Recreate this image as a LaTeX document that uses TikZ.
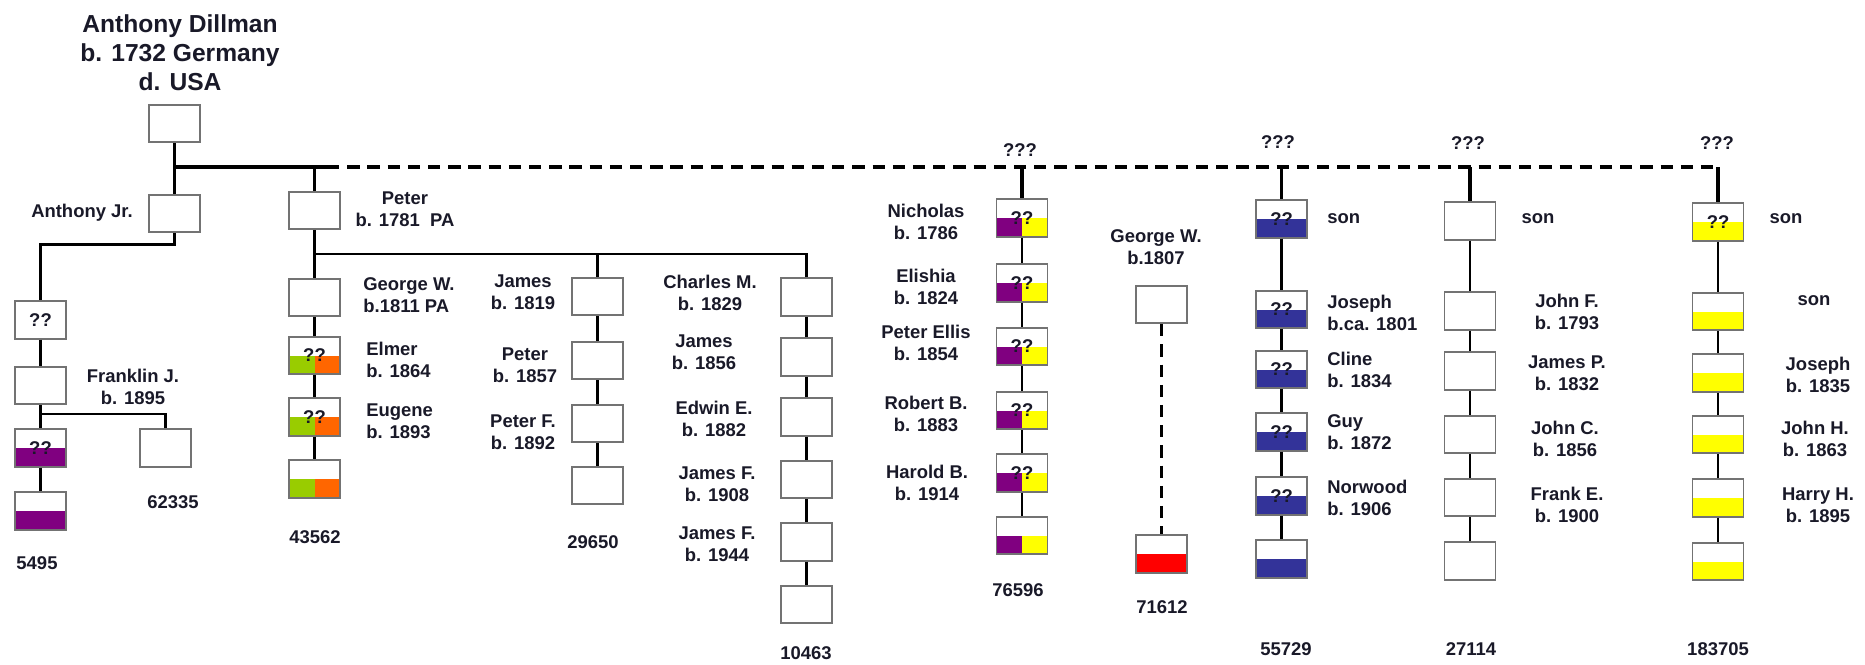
\documentclass[tikz,border=0pt]{standalone}
\usepackage{fontspec}
\setmainfont{Liberation Sans}
\usetikzlibrary{shapes, positioning}
\definecolor{boxline}{RGB}{115,115,115}
\definecolor{ink}{RGB}{25,25,40}
\definecolor{plum}{RGB}{128,0,128}
\definecolor{lemon}{RGB}{255,255,0}
\definecolor{navy}{RGB}{51,51,153}
\definecolor{lime}{RGB}{153,204,0}
\definecolor{tangerine}{RGB}{255,102,0}
\definecolor{scarlet}{RGB}{255,0,0}
\tikzstyle{person} = [rectangle, draw=boxline, line width=1pt, fill=white, minimum width=1.02cm, minimum height=0.75cm, inner sep=0pt, text=ink, font=\bfseries\fontsize{10.5}{10.5}\selectfont]
\tikzstyle{tag} = [align=center, inner sep=0pt, text=ink, font=\bfseries\fontsize{10.5}{12.5}\selectfont]
\tikzstyle{trunk} = [line width=1.8pt]
\tikzstyle{link} = [line width=1.4pt]
\tikzstyle{unsure} = [dash pattern=on 7pt off 4.5pt]
\tikzset{
  half/.style={person, path picture={\fill[#1] (path picture bounding box.west) rectangle (path picture bounding box.south east);}},
  split/.style 2 args={person, path picture={
    \fill[#1] (path picture bounding box.west) rectangle (path picture bounding box.south);
    \fill[#2] (path picture bounding box.center) rectangle (path picture bounding box.south east);}}
}

\begin{document}
\begin{tikzpicture}[x=0.02cm, y=-0.02cm]
  \useasboundingbox (0,0) rectangle (1865,664);

  % Stammvater
  \node[tag, font=\bfseries\fontsize{14}{16.5}\selectfont] (title) at (180,53) {Anthony Dillman\\b. 1732 Germany\\d. USA};
  \node[person] (root) at (174.5,123.5) {};
  \node[person] (aj) at (174.5,213.5) {};
  \node[person] (peter) at (314.5,210.5) {};
  \node[tag] (ajtag) at (82,213) {Anthony Jr.};
  \node[tag] (petertag) at (405,209) {Peter\\b. 1781~~PA};

  % Linie Anthony Jr.
  \node[person] (a1) at (40.5,320) {??};
  \node[person] (a2) at (40.5,385.5) {};
  \node[half=plum] (a3) at (40.5,448) {??};
  \node[half=plum] (a4) at (40.5,511) {};
  \node[person] (w62335) at (165.5,448) {};
  \node[tag] (franklin) at (133,387) {Franklin J.\\b. 1895};
  \node[tag] (n62335) at (173,502) {62335};
  \node[tag] (n5495) at (37,563) {5495};

  % Linie George W. (1811)
  \node[person] (g1) at (314.5,297.5) {};
  \node[split={lime}{tangerine}] (g2) at (314.5,355.5) {??};
  \node[split={lime}{tangerine}] (g3) at (314.5,417) {??};
  \node[split={lime}{tangerine}] (g4) at (314.5,479) {};
  \node[tag, anchor=west, align=left] (gtag1) at (363,295.5) {George W.\\b.1811 PA};
  \node[tag, anchor=west, align=left] (gtag2) at (366,359.5) {Elmer\\b. 1864};
  \node[tag, anchor=west, align=left] (gtag3) at (366,421.5) {Eugene\\b. 1893};
  \node[tag] (n43562) at (315,537) {43562};

  % Linie James (1819)
  \node[person] (j1) at (597.5,296.5) {};
  \node[person] (j2) at (597.5,360.5) {};
  \node[person] (j3) at (597.5,423.5) {};
  \node[person] (j4) at (597.5,485.5) {};
  \node[tag] (jtag1) at (523,292.5) {James\\b. 1819};
  \node[tag] (jtag2) at (525,365) {Peter\\b. 1857};
  \node[tag] (jtag3) at (523,432) {Peter F.\\b. 1892};
  \node[tag] (n29650) at (593,542) {29650};

  % Linie Charles M.
  \node[person] (c1) at (806.5,297) {};
  \node[person] (c2) at (806.5,357) {};
  \node[person] (c3) at (806.5,417) {};
  \node[person] (c4) at (806.5,479.5) {};
  \node[person] (c5) at (806.5,542) {};
  \node[person] (c6) at (806.5,604.5) {};
  \node[tag] (ctag1) at (710,292.5) {Charles M.\\b. 1829};
  \node[tag] (ctag2) at (704,352.5) {James\\b. 1856};
  \node[tag] (ctag3) at (714,419) {Edwin E.\\b. 1882};
  \node[tag] (ctag4) at (717,484) {James F.\\b. 1908};
  \node[tag] (ctag5) at (717,544) {James F.\\b. 1944};
  \node[tag] (n10463) at (806,653) {10463};

  % Linie Nicholas
  \node[tag] (nq) at (1020,150) {???};
  \node[split={plum}{lemon}] (n1) at (1022,218) {??};
  \node[split={plum}{lemon}] (n2) at (1022,283) {??};
  \node[split={plum}{lemon}] (n3) at (1022,346.5) {??};
  \node[split={plum}{lemon}] (n4) at (1022,410.5) {??};
  \node[split={plum}{lemon}] (n5) at (1022,473) {??};
  \node[split={plum}{lemon}] (n6) at (1022,535.5) {};
  \node[tag] (ntag1) at (926,221.5) {Nicholas\\b. 1786};
  \node[tag] (ntag2) at (926,286.5) {Elishia\\b. 1824};
  \node[tag] (ntag3) at (926,342.5) {Peter Ellis\\b. 1854};
  \node[tag] (ntag4) at (926,414) {Robert B.\\b. 1883};
  \node[tag] (ntag5) at (927,482.5) {Harold B.\\b. 1914};
  \node[tag] (n76596) at (1018,590) {76596};

  % George W. (1807)
  \node[person] (gw1) at (1161.5,304.5) {};
  \node[half=scarlet] (gw2) at (1161.5,554) {};
  \node[tag] (gwtag) at (1156,247.5) {George W.\\b.1807};
  \node[tag] (n71612) at (1162,607) {71612};

  % Linie Joseph (blau)
  \node[tag] (sq) at (1278,142) {???};
  \node[half=navy] (s1) at (1281.5,219) {??};
  \node[half=navy] (s2) at (1281.5,309.5) {??};
  \node[half=navy] (s3) at (1281.5,369.5) {??};
  \node[half=navy] (s4) at (1281.5,432) {??};
  \node[half=navy] (s5) at (1281.5,496) {??};
  \node[half=navy] (s6) at (1281.5,559) {};
  \node[tag, anchor=west, align=left] (stag1) at (1327,219) {son};
  \node[tag, anchor=west, align=left] (stag2) at (1327,312.5) {Joseph\\b.ca. 1801};
  \node[tag, anchor=west, align=left] (stag3) at (1327,370) {Cline\\b. 1834};
  \node[tag, anchor=west, align=left] (stag4) at (1327,432.5) {Guy\\b. 1872};
  \node[tag, anchor=west, align=left] (stag5) at (1327,498) {Norwood\\b. 1906};
  \node[tag] (n55729) at (1286,649) {55729};

  % Linie John F.
  \node[tag] (tq) at (1468,143) {???};
  \node[person] (t1) at (1470,221) {};
  \node[person] (t2) at (1470,311) {};
  \node[person] (t3) at (1470,371) {};
  \node[person] (t4) at (1470,434.5) {};
  \node[person] (t5) at (1470,497.5) {};
  \node[person] (t6) at (1470,561) {};
  \node[tag] (ttag1) at (1538,219) {son};
  \node[tag] (ttag2) at (1567,311.5) {John F.\\b. 1793};
  \node[tag] (ttag3) at (1567,373.5) {James P.\\b. 1832};
  \node[tag] (ttag4) at (1565,439) {John C.\\b. 1856};
  \node[tag] (ttag5) at (1567,505) {Frank E.\\b. 1900};
  \node[tag] (n27114) at (1471,649) {27114};

  % Linie gelb
  \node[tag] (yq) at (1717,143) {???};
  \node[half=lemon] (y1) at (1718,222) {??};
  \node[half=lemon] (y2) at (1718,311.5) {};
  \node[half=lemon] (y3) at (1718,373) {};
  \node[half=lemon] (y4) at (1718,434.5) {};
  \node[half=lemon] (y5) at (1718,498) {};
  \node[half=lemon] (y6) at (1718,561.5) {};
  \node[tag] (ytag1) at (1786,219) {son};
  \node[tag] (ytag2) at (1814,301) {son};
  \node[tag] (ytag3) at (1818,374.5) {Joseph\\b. 1835};
  \node[tag] (ytag4) at (1815,439) {John H.\\b. 1863};
  \node[tag] (ytag5) at (1818,505) {Harry H.\\b. 1895};
  \node[tag] (n183705) at (1718,649) {183705};

  % Hauptlinie
  \coordinate (bar) at (174.5,167);
  \coordinate (dash0) at (327,167);
  \draw[trunk] (root) -- (aj);
  \draw[trunk] (bar) -| (peter);
  \draw[trunk] (bar) -- (dash0);
  \draw[trunk, unsure] (dash0) -- (bar -| y1);
  \draw[trunk] (bar -| n1) -- (n1);
  \draw[trunk] (bar -| s1) -- (s1);
  \draw[trunk] (bar -| t1) -- (t1);
  \draw[trunk] (bar -| y1) -- (y1);

  % Anthony Jr.
  \coordinate (fbar) at (40.5,414);
  \draw[trunk] (aj.south) -- ++(0,11) -| (a1);
  \draw[link] (a1) -- (a2);
  \draw[link] (a2) -- (a3);
  \draw[link] (a3) -- (a4);
  \draw[link] (fbar) -| (w62335);

  % Peter
  \coordinate (pbar) at (314.5,254);
  \draw[trunk] (peter) -- (pbar);
  \draw[link] (pbar) -| (c1);
  \draw[link] (pbar) -- (g1);
  \draw[link] (pbar -| j1) -- (j1);
  \draw[link] (g1) -- (g2);
  \draw[link] (g2) -- (g3);
  \draw[link] (g3) -- (g4);
  \draw[link] (j1) -- (j2);
  \draw[link] (j2) -- (j3);
  \draw[link] (j3) -- (j4);
  \draw[link] (c1) -- (c2);
  \draw[link] (c2) -- (c3);
  \draw[link] (c3) -- (c4);
  \draw[link] (c4) -- (c5);
  \draw[link] (c5) -- (c6);

  % Nicholas, George W., Joseph, John F., gelb
  \draw[link] (n1) -- (n2);
  \draw[link] (n2) -- (n3);
  \draw[link] (n3) -- (n4);
  \draw[link] (n4) -- (n5);
  \draw[link] (n5) -- (n6);
  \draw[link, unsure] (gw1) -- (gw2);
  \draw[link] (s1) -- (s2);
  \draw[link] (s2) -- (s3);
  \draw[link] (s3) -- (s4);
  \draw[link] (s4) -- (s5);
  \draw[link] (s5) -- (s6);
  \draw[link] (t1) -- (t2);
  \draw[link] (t2) -- (t3);
  \draw[link] (t3) -- (t4);
  \draw[link] (t4) -- (t5);
  \draw[link] (t5) -- (t6);
  \draw[link] (y1) -- (y2);
  \draw[link] (y2) -- (y3);
  \draw[link] (y3) -- (y4);
  \draw[link] (y4) -- (y5);
  \draw[link] (y5) -- (y6);
\end{tikzpicture}
\end{document}
